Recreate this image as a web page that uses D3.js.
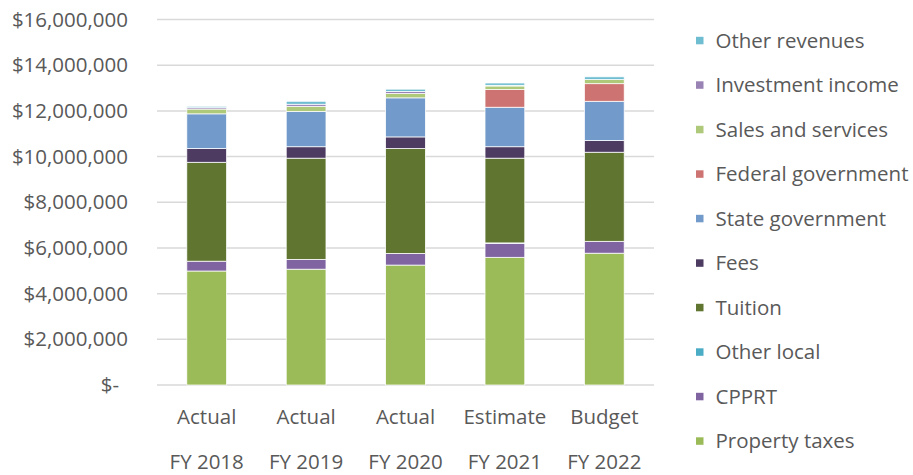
<!DOCTYPE html>
<html>
<head>
<meta charset="utf-8">
<script src="https://cdn.jsdelivr.net/npm/d3@7"></script>
<style>
  body { margin: 0; background: #fff; }
  text { font-family: "Open Sans", Lato, sans-serif; fill: #595959; }
</style>
</head>
<body>
<div id="chart"></div>
<script>
// categories, two-line labels
var years = ["FY 2018", "FY 2019", "FY 2020", "FY 2021", "FY 2022"];
var kinds = ["Actual", "Actual", "Actual", "Estimate", "Budget"];

// series, bottom to top
var seriesNames = ["Property taxes", "CPPRT", "Other local", "Tuition", "Fees",
  "State government", "Federal government", "Sales and services", "Investment income", "Other revenues"];
var seriesColors = ["#9BBB59", "#8064A2", "#4BACC6", "#5F7530", "#4D3B62",
  "#729ACA", "#CD7371", "#AFC97A", "#9983B5", "#6FBDD1"];

var propertyTaxes = [4990000, 5070000, 5250000, 5590000, 5770000];
var cpprt         = [430000, 430000, 510000, 610000, 520000];
var otherLocal    = [0, 0, 0, 20000, 0];
var tuition       = [4330000, 4430000, 4590000, 3710000, 3900000];
var fees          = [600000, 500000, 510000, 500000, 510000];
var stateGov      = [1520000, 1540000, 1710000, 1730000, 1720000];
var federalGov    = [0, 0, 0, 770000, 770000];
var salesServices = [210000, 230000, 190000, 160000, 180000];
var investment    = [60000, 90000, 90000, 30000, 0];
var otherRevenues = [60000, 130000, 100000, 100000, 120000];

var yTicks = [0, 2000000, 4000000, 6000000, 8000000, 10000000, 12000000, 14000000, 16000000];

var seriesValues = [propertyTaxes, cpprt, otherLocal, tuition, fees,
  stateGov, federalGov, salesServices, investment, otherRevenues];

var rows = years.map(function(y, i) {
  var r = { year: y };
  seriesNames.forEach(function(n, j) { r[n] = seriesValues[j][i]; });
  return r;
});

var W = 913, H = 475;
var margin = { top: 19.5, left: 157, right: 259, bottom: 90 };
var fs = "20.5px";

var svg = d3.select("#chart").append("svg")
  .attr("width", W).attr("height", H);

var x = d3.scaleBand().domain(years)
  .range([margin.left, W - margin.right]);
var y = d3.scaleLinear().domain([0, 16000000])
  .range([H - margin.bottom, margin.top]);

var money = function(d) { return d === 0 ? "$-" : "$" + d3.format(",")(d); };

// gridlines
svg.append("g").selectAll("line")
  .data(yTicks).enter().append("line")
  .attr("x1", margin.left).attr("x2", W - margin.right)
  .attr("y1", function(d) { return y(d); })
  .attr("y2", function(d) { return y(d); })
  .attr("stroke", "#D9D9D9").attr("stroke-width", 1.5);

// y labels
svg.append("g").selectAll("text")
  .data(yTicks).enter().append("text")
  .attr("x", function(d) { return d === 0 ? 119 : 128; })
  .attr("y", function(d) { return y(d); })
  .attr("dy", "0.35em")
  .attr("text-anchor", "end")
  .style("font-size", fs)
  .text(money);

// stacked bars
var stack = d3.stack().keys(seriesNames);
var layers = stack(rows);
var barW = x.bandwidth() * 0.4;

svg.append("g").selectAll("g")
  .data(layers).enter().append("g")
  .attr("fill", function(d, i) { return seriesColors[i]; })
  .selectAll("rect")
  .data(function(d) { return d; }).enter().append("rect")
  .filter(function(d) { return d[1] - d[0] > 0; })
  .attr("x", function(d) { return x(d.data.year) + (x.bandwidth() - barW) / 2; })
  .attr("width", barW)
  .attr("y", function(d) { return y(d[1]); })
  .attr("height", function(d) { return y(d[0]) - y(d[1]); })
  .attr("stroke", "#fff").attr("stroke-width", 0.75);

// x labels
var xl = svg.append("g").selectAll("g")
  .data(years).enter().append("g");
xl.append("text")
  .attr("x", function(d) { return x(d) + x.bandwidth() / 2; })
  .attr("y", 417)
  .attr("dy", "0.35em")
  .attr("text-anchor", "middle")
  .style("font-size", fs)
  .text(function(d, i) { return kinds[i]; });
xl.append("text")
  .attr("x", function(d) { return x(d) + x.bandwidth() / 2; })
  .attr("y", 462)
  .attr("dy", "0.35em")
  .attr("text-anchor", "middle")
  .style("font-size", fs)
  .text(function(d) { return d; });

// legend, top entry is the last series
var legendItems = seriesNames.slice().reverse();
var legend = svg.append("g").selectAll("g")
  .data(legendItems).enter().append("g")
  .attr("transform", function(d, i) { return "translate(696," + (40.5 + i * 44.5) + ")"; });
legend.append("rect")
  .attr("x", 0).attr("y", -3.7)
  .attr("width", 7.5).attr("height", 7.5)
  .attr("fill", function(d) { return seriesColors[seriesNames.indexOf(d)]; });
legend.append("text")
  .attr("x", 19.5).attr("dy", "0.35em")
  .style("font-size", fs)
  .text(function(d) { return d; });
</script>
</body>
</html>
